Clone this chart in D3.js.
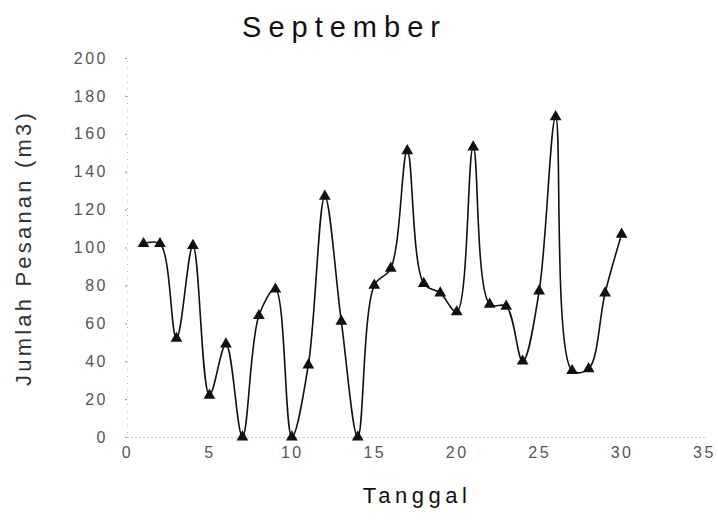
<!DOCTYPE html>
<html>
<head>
<meta charset="utf-8">
<script src="https://cdn.jsdelivr.net/npm/d3@7"></script>
<style>
  html, body { margin: 0; padding: 0; background: #fff; }
  svg { display: block; }
  text { font-family: "Liberation Sans", Arial, sans-serif; }
</style>
</head>
<body>
<svg id="chart" width="718" height="522"></svg>
<script>
// Daily orders in September (Jumlah Pesanan, m3) by date (Tanggal)
const days = [1, 2, 3, 4, 5, 6, 7, 8, 9, 10, 11, 12, 13, 14, 15,
              16, 17, 18, 19, 20, 21, 22, 23, 24, 25, 26, 27, 28, 29, 30];
const orders = [102, 102, 52, 101, 22, 49, 0, 64, 78, 0, 38, 127, 61, 0, 80,
                89, 151, 81, 76, 66, 153, 70, 69, 40, 77, 169, 35, 36, 76, 107];
const xTicks = [0, 5, 10, 15, 20, 25, 30, 35];
const yTicks = [0, 20, 40, 60, 80, 100, 120, 140, 160, 180, 200];

const svg = d3.select("#chart");
const plot = { left: 127, right: 704, top: 58, bottom: 437 };

const x = d3.scaleLinear().domain([0, 35]).range([plot.left, plot.right]);
const y = d3.scaleLinear().domain([0, 200]).range([plot.bottom, plot.top]);

// title
const titleSpacing = 7;
svg.append("text")
  .attr("x", 341 + titleSpacing / 2).attr("y", 37)
  .attr("text-anchor", "middle")
  .attr("font-size", 29)
  .attr("letter-spacing", titleSpacing)
  .attr("fill", "#111")
  .text("September");

// y axis (faint dotted, labels only)
const yAxis = d3.axisLeft(y).tickValues(yTicks).tickSize(2).tickPadding(17);
const gy = svg.append("g").attr("transform", `translate(${plot.left},0)`).call(yAxis);
gy.select(".domain").attr("stroke", "#bbb").attr("stroke-dasharray", "1,6");
gy.selectAll(".tick line").attr("stroke", "#999");
gy.selectAll(".tick text")
  .attr("font-size", 16).attr("letter-spacing", 2.5).attr("fill", "#555")
  .attr("font-family", "Liberation Sans, Arial, sans-serif");

// x axis (dotted baseline)
const xAxis = d3.axisBottom(x).tickValues(xTicks).tickSize(0).tickPadding(8);
const gx = svg.append("g").attr("transform", `translate(0,${plot.bottom})`).call(xAxis);
gx.select(".domain").attr("stroke", "#999").attr("stroke-dasharray", "1,3");
gx.selectAll(".tick text")
  .attr("font-size", 16).attr("letter-spacing", 2.5).attr("fill", "#555")
  .attr("font-family", "Liberation Sans, Arial, sans-serif")
  .attr("dy", "0.8em");

// axis titles
svg.append("text")
  .attr("transform", "translate(31,248) rotate(-90)")
  .attr("text-anchor", "middle")
  .attr("font-size", 22)
  .attr("letter-spacing", 3.2)
  .attr("fill", "#333")
  .text("Jumlah Pesanan (m3)");

svg.append("text")
  .attr("x", 417).attr("y", 503)
  .attr("text-anchor", "middle")
  .attr("font-size", 22)
  .attr("letter-spacing", 4.5)
  .attr("fill", "#111")
  .text("Tanggal");

// smoothed line
const data = days.map((d, i) => ({ day: d, value: orders[i] }));
const line = d3.line()
  .x(d => x(d.day))
  .y(d => y(d.value))
  .curve(d3.curveCatmullRom.alpha(0.5));

svg.append("path")
  .datum(data)
  .attr("fill", "none")
  .attr("stroke", "#111")
  .attr("stroke-width", 1.6)
  .attr("d", line);

// triangle markers
const tri = d3.symbol().type(d3.symbolTriangle).size(60);
svg.append("g").selectAll("path")
  .data(data)
  .join("path")
  .attr("transform", d => `translate(${x(d.day)},${y(d.value)})`)
  .attr("d", tri)
  .attr("fill", "#111");
</script>
</body>
</html>
